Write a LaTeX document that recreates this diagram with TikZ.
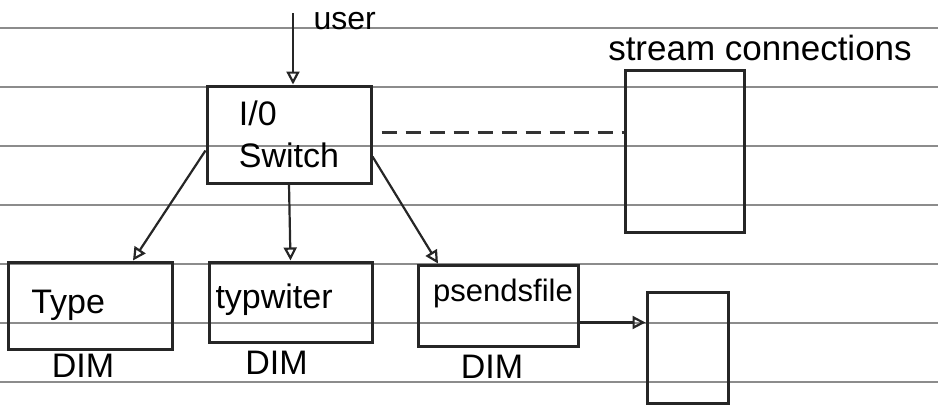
\documentclass[tikz,border=0pt]{standalone}
\usepackage{fontspec}
\setmainfont{Liberation Sans}
\usetikzlibrary{arrows.meta,positioning}

\begin{document}
\begin{tikzpicture}[
    x=1pt, y=-1pt,
    hand/.style={font=\fontsize{34}{42}\selectfont},
    module/.style={draw=black!85, line width=3pt, inner sep=0pt, hand},
    rule/.style={draw=black!45, line width=1.4pt},
    arrow/.style={-{Triangle[open, length=13pt, width=13pt]}, line width=2.2pt, draw=black!85},
    link/.style={line width=2.6pt, draw=black!80, dash pattern=on 15pt off 9pt}
]
\useasboundingbox (0,0) rectangle (938,405);

% ruled paper
\foreach \y in {28,87,146,205,264,323,382}
  \draw[rule] (0,\y) -- (938,\y);

\node[module, minimum width=164pt, minimum height=97pt, align=left] (switch) at (289,134.5) {I/0\\Switch};
\node[module, minimum width=119pt, minimum height=162pt] (stream) at (684.5,151) {};
\node[hand, anchor=center, font=\fontsize{35}{42}\selectfont] (streamlabel) at (760,48) {stream connections};

\node[module, minimum width=164pt, minimum height=87pt, text width=140pt, align=left] (type) at (90,305.5) {~Type};
\node[module, minimum width=163pt, minimum height=80pt, text width=150pt, align=left, text depth=12pt] (typw) at (290.5,302) {typwiter};
\node[module, minimum width=160pt, minimum height=81pt, font=\fontsize{31}{36}\selectfont, text depth=30pt] (pseudo) at (498,305.5) {\hspace{10pt}psendsfile};
\node[module, minimum width=81pt, minimum height=111pt] (file) at (687.5,347.5) {};

\node[hand, inner sep=0pt, below=3pt of type, xshift=-7pt] (dimtype) {DIM};
\node[hand, inner sep=0pt, below=7pt of typw, xshift=-14pt] (dimtypw) {DIM};
\node[hand, inner sep=0pt, below=7pt of pseudo, xshift=-6pt] (dimpseudo) {DIM};

\coordinate (top) at (293,13);
\node[hand, anchor=west, font=\fontsize{32}{38}\selectfont] (user) at (310,21) {user};

\draw[arrow] (top) -- (top |- switch.north);
\draw[arrow] ([yshift=-16pt]switch.west) -- ([xshift=43pt]type.north);
\draw[arrow] (switch.south) -- (typw.north);
\draw[arrow] ([yshift=-22pt]switch.east) -- ([xshift=-60pt]pseudo.north);
\draw[arrow] ([yshift=-17pt]pseudo.east) -- ([yshift=-17pt]pseudo.east -| file.west);
\draw[link] ([xshift=9pt, yshift=2pt]switch.east) -- ([yshift=2pt]switch.east -| stream.west);
\end{tikzpicture}
\end{document}
